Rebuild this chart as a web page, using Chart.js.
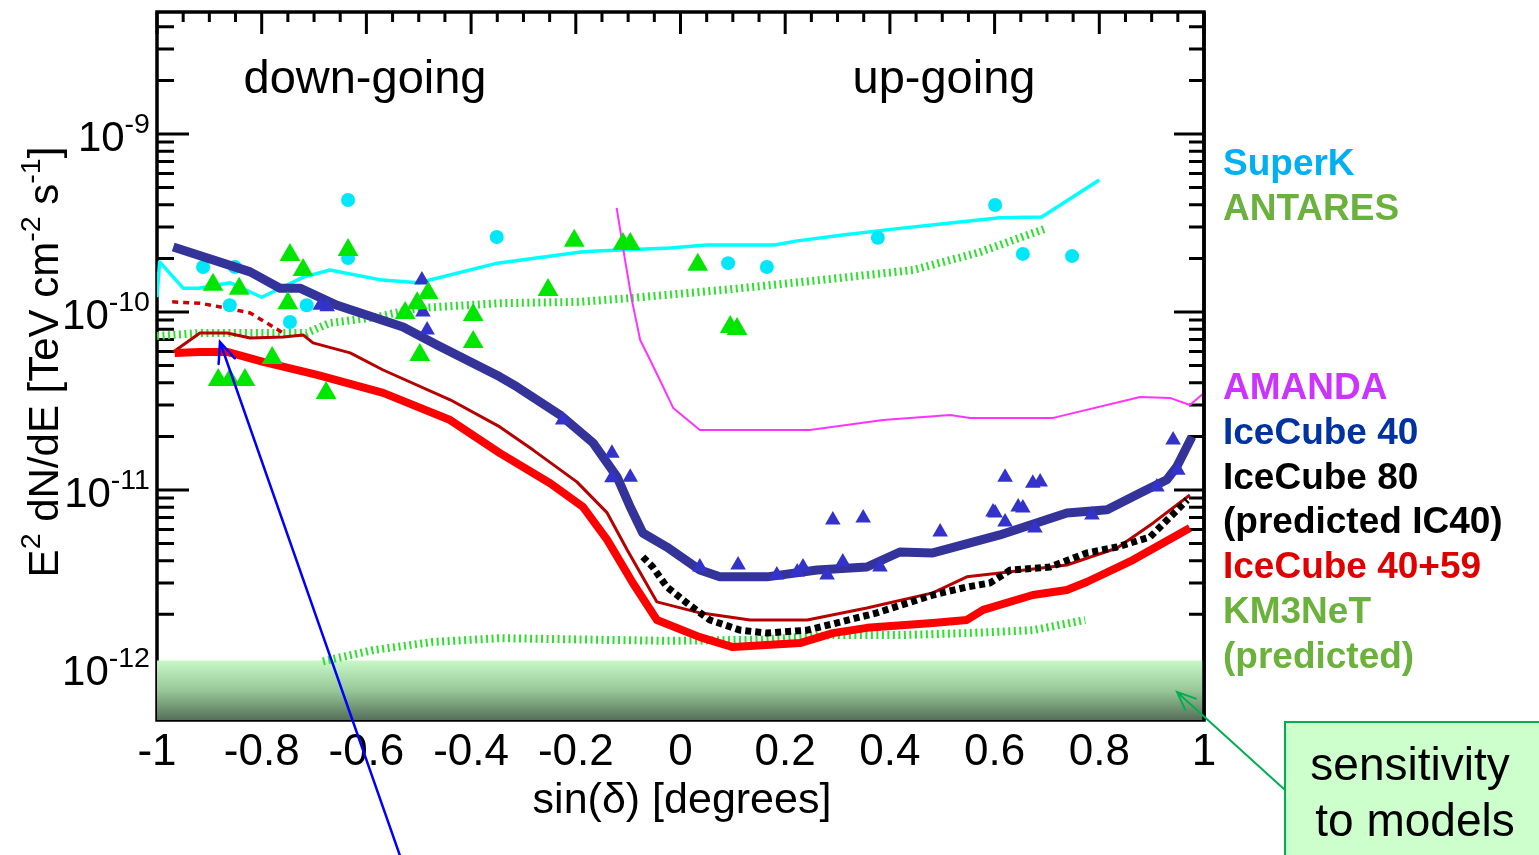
<!DOCTYPE html>
<html>
<head>
<meta charset="utf-8">
<script src="https://cdn.jsdelivr.net/npm/chart.js@4.4.1/dist/chart.umd.min.js"></script>
<style>
  html, body { margin: 0; padding: 0; background: #fff; }
  #wrap { width: 1539px; height: 855px; position: relative; }
</style>
</head>
<body>
<div id="wrap"><canvas id="chart"></canvas></div>
<script>
// ---- data: x = sin(dec), y = E^2 dN/dE [TeV cm^-2 s^-1] ----
const superkLineX = [-1.0, -0.995, -0.95, -0.92, -0.86, -0.80, -0.72, -0.67, -0.57, -0.50, -0.35, -0.19, -0.16, -0.02, 0.05, 0.18, 0.22, 0.31, 0.41, 0.48, 0.61, 0.69, 0.80];
const superkLineY = [1.21e-10, 1.91e-10, 1.36e-10, 1.36e-10, 1.46e-10, 1.21e-10, 1.57e-10, 1.72e-10, 1.51e-10, 1.46e-10, 1.88e-10, 2.17e-10, 2.20e-10, 2.29e-10, 2.38e-10, 2.38e-10, 2.50e-10, 2.71e-10, 2.93e-10, 3.08e-10, 3.38e-10, 3.42e-10, 5.52e-10];

const superkPtsX = [-0.912, -0.851, -0.861, -0.746, -0.714, -0.635, -0.635, -0.351, 0.091, 0.165, 0.377, 0.601, 0.654, 0.748];
const superkPtsY = [1.79e-10, 1.79e-10, 1.09e-10, 8.79e-11, 1.09e-10, 4.26e-10, 2.01e-10, 2.64e-10, 1.88e-10, 1.79e-10, 2.61e-10, 3.99e-10, 2.12e-10, 2.06e-10];

const antaresPtsX = [-0.893, -0.843, -0.883, -0.861, -0.832, -0.780, -0.746, -0.721, -0.750, -0.677, -0.635, -0.526, -0.503, -0.482, -0.498, -0.396, -0.396, -0.253, -0.203, -0.110, -0.096, 0.033, 0.095, 0.108];
const antaresPtsY = [1.42e-10, 1.35e-10, 4.15e-11, 4.15e-11, 4.15e-11, 5.52e-11, 2.09e-10, 1.72e-10, 1.12e-10, 3.51e-11, 2.23e-10, 9.87e-11, 1.12e-10, 1.28e-10, 5.74e-11, 9.62e-11, 6.78e-11, 1.33e-10, 2.51e-10, 2.41e-10, 2.41e-10, 1.84e-10, 8.24e-11, 8.02e-11];

const antaresLineX = [-1.0, -0.918, -0.759, -0.714, -0.670, -0.580, -0.504, -0.345, -0.192, -0.091, 0.081, 0.266, 0.444, 0.572, 0.700];
const antaresLineY = [7.33e-11, 7.62e-11, 7.62e-11, 7.62e-11, 8.67e-11, 9.37e-11, 1.05e-10, 1.12e-10, 1.14e-10, 1.20e-10, 1.33e-10, 1.51e-10, 1.72e-10, 2.17e-10, 2.96e-10];

const km3netX = [-0.683, -0.587, -0.473, -0.345, -0.154, -0.026, 0.152, 0.291, 0.419, 0.547, 0.673, 0.773];
const km3netY = [1.09e-12, 1.26e-12, 1.40e-12, 1.47e-12, 1.44e-12, 1.42e-12, 1.44e-12, 1.53e-12, 1.53e-12, 1.57e-12, 1.63e-12, 1.86e-12];

const amandaX = [-0.122, -0.106, -0.093, -0.077, -0.058, -0.033, -0.014, 0.037, 0.247, 0.387, 0.515, 0.553, 0.712, 0.878, 0.935, 0.973, 1.0];
const amandaY = [3.84e-10, 1.96e-10, 1.17e-10, 6.96e-11, 5.37e-11, 3.79e-11, 2.89e-11, 2.17e-11, 2.17e-11, 2.47e-11, 2.64e-11, 2.54e-11, 2.54e-11, 3.33e-11, 3.29e-11, 3.00e-11, 3.51e-11];

const ic40LineX = [-0.969, -0.822, -0.765, -0.727, -0.656, -0.530, -0.465, -0.345, -0.312, -0.230, -0.167, -0.121, -0.096, -0.072, -0.026, 0.037, 0.075, 0.165, 0.261, 0.356, 0.419, 0.482, 0.610, 0.738, 0.815, 0.878, 0.929, 0.948, 0.977];
const ic40LineY = [2.32e-10, 1.68e-10, 1.36e-10, 1.36e-10, 1.09e-10, 8.24e-11, 6.53e-11, 4.32e-11, 3.79e-11, 2.64e-11, 1.84e-11, 1.18e-11, 8.02e-12, 5.73e-12, 4.78e-12, 3.55e-12, 3.25e-12, 3.25e-12, 3.55e-12, 3.69e-12, 4.48e-12, 4.43e-12, 5.59e-12, 7.43e-12, 7.73e-12, 9.62e-12, 1.14e-11, 1.35e-11, 1.99e-11];

const ic40PtsX = [-0.688, -0.675, -0.494, -0.492, -0.484, -0.225, -0.131, -0.131, -0.096, 0.037, 0.110, 0.184, 0.223, 0.234, 0.280, 0.310, 0.291, 0.349, 0.381, 0.496, 0.597, 0.620, 0.601, 0.620, 0.645, 0.654, 0.673, 0.687, 0.677, 0.786, 0.910, 0.941, 0.950];
const ic40PtsY = [1.09e-10, 1.07e-10, 1.51e-10, 1.00e-10, 7.93e-11, 2.47e-11, 1.61e-11, 1.17e-11, 1.18e-11, 3.69e-12, 3.79e-12, 3.33e-12, 3.46e-12, 3.69e-12, 3.33e-12, 3.94e-12, 6.78e-12, 6.96e-12, 3.69e-12, 5.81e-12, 7.52e-12, 1.18e-11, 7.43e-12, 6.61e-12, 8.02e-12, 7.93e-12, 1.09e-11, 1.11e-11, 6.12e-12, 7.24e-12, 1.04e-11, 1.91e-11, 1.29e-11];

const ic4059X = [-0.966, -0.918, -0.866, -0.797, -0.694, -0.568, -0.440, -0.345, -0.249, -0.186, -0.140, -0.091, -0.045, 0.037, 0.100, 0.228, 0.291, 0.356, 0.482, 0.547, 0.578, 0.673, 0.738, 0.776, 0.864, 0.973];
const ic4059Y = [5.89e-11, 5.96e-11, 5.96e-11, 5.24e-11, 4.43e-11, 3.51e-11, 2.47e-11, 1.61e-11, 1.09e-11, 8.02e-12, 5.24e-12, 3.00e-12, 1.86e-12, 1.49e-12, 1.31e-12, 1.38e-12, 1.57e-12, 1.68e-12, 1.79e-12, 1.86e-12, 2.12e-12, 2.57e-12, 2.74e-12, 3.04e-12, 4.04e-12, 6.12e-12];

const thinRedX = [-0.969, -0.918, -0.866, -0.822, -0.759, -0.721, -0.702, -0.631, -0.568, -0.440, -0.345, -0.282, -0.198, -0.140, -0.102, -0.045, 0.037, 0.133, 0.242, 0.356, 0.482, 0.547, 0.610, 0.738, 0.834, 0.903, 0.973];
const thinRedY = [5.96e-11, 7.62e-11, 7.62e-11, 7.14e-11, 7.24e-11, 7.43e-11, 6.70e-11, 5.89e-11, 4.72e-11, 3.21e-11, 2.26e-11, 1.68e-11, 1.11e-11, 7.43e-12, 4.61e-12, 2.35e-12, 2.04e-12, 1.86e-12, 1.86e-12, 2.17e-12, 2.64e-12, 3.25e-12, 3.42e-12, 3.79e-12, 4.72e-12, 6.53e-12, 9.37e-12];

const dashRedX = [-0.971, -0.918, -0.866, -0.822, -0.759];
const dashRedY = [1.14e-10, 1.12e-10, 1.05e-10, 9.87e-11, 7.62e-11];

const ic80X = [-0.072, -0.053, -0.026, 0.012, 0.056, 0.114, 0.165, 0.242, 0.305, 0.375, 0.482, 0.547, 0.591, 0.630, 0.706, 0.776, 0.834, 0.897, 0.968];
const ic80Y = [4.21e-12, 3.69e-12, 2.85e-12, 2.32e-12, 1.86e-12, 1.63e-12, 1.57e-12, 1.63e-12, 1.81e-12, 2.04e-12, 2.57e-12, 2.85e-12, 3.00e-12, 3.55e-12, 3.69e-12, 4.43e-12, 4.78e-12, 5.44e-12, 8.79e-12];

const bandX = [-1, 1];
const bandY = [1.1e-12, 1.1e-12];

const xTicks = [-1, -0.8, -0.6, -0.4, -0.2, 0, 0.2, 0.4, 0.6, 0.8, 1];
const yDecades = [-9, -10, -11, -12];

const legendLines = [
  ['SuperK', '#00b0f0'], ['ANTARES', '#6ab23b'], null, null, null,
  ['AMANDA', '#cc33ff'], ['IceCube 40', '#0033a0'], ['IceCube 80', '#000000'],
  ['(predicted IC40)', '#000000'], ['IceCube 40+59', '#e00000'],
  ['KM3NeT', '#6ab23b'], ['(predicted)', '#6ab23b']
];

const FONT = '"Liberation Sans", Arial, Helvetica, sans-serif';

function pts(xs, ys) {
  return xs.map((x, i) => ({ x: x, y: ys[i] }));
}

function lineSet(label, xs, ys, color, width, dash, order) {
  return {
    label: label, data: pts(xs, ys), showLine: true,
    borderColor: color, borderWidth: width, borderDash: dash || [],
    borderJoinStyle: 'round', pointRadius: 0, pointHoverRadius: 0,
    fill: false, tension: 0, order: order
  };
}

function markSet(label, xs, ys, color, style, radius, order) {
  return {
    label: label, data: pts(xs, ys), showLine: false,
    pointStyle: style, pointRadius: radius, pointHoverRadius: radius,
    pointBackgroundColor: color, pointBorderColor: color, pointBorderWidth: 0,
    order: order
  };
}

// superscript-capable text
function richText(ctx, parts, x, y, size, align, color) {
  ctx.fillStyle = color || '#000';
  ctx.textAlign = 'left';
  ctx.textBaseline = 'alphabetic';
  let w = 0;
  parts.forEach(p => {
    ctx.font = (p[1] ? size * 0.68 : size) + 'px ' + FONT;
    w += ctx.measureText(p[0]).width;
  });
  let cx = align === 'right' ? x - w : align === 'center' ? x - w / 2 : x;
  parts.forEach(p => {
    ctx.font = (p[1] ? size * 0.68 : size) + 'px ' + FONT;
    ctx.fillText(p[0], cx, p[1] ? y - size * 0.42 : y);
    cx += ctx.measureText(p[0]).width;
  });
}

function arrow(ctx, x0, y0, x1, y1, color, width, head) {
  const ang = Math.atan2(y0 - y1, x0 - x1);
  ctx.save();
  ctx.strokeStyle = color;
  ctx.lineWidth = width;
  ctx.lineCap = 'round';
  ctx.beginPath();
  ctx.moveTo(x0, y0); ctx.lineTo(x1, y1);
  ctx.moveTo(x1 + head * Math.cos(ang + 0.4), y1 + head * Math.sin(ang + 0.4));
  ctx.lineTo(x1, y1);
  ctx.lineTo(x1 + head * Math.cos(ang - 0.4), y1 + head * Math.sin(ang - 0.4));
  ctx.stroke();
  ctx.restore();
}

const decor = {
  id: 'decor',
  beforeDatasetsDraw(chart) {
    const { ctx, chartArea: a, scales: { x, y } } = chart;
    ctx.save();
    ctx.strokeStyle = '#000';
    ctx.lineWidth = 3.5;
    ctx.strokeRect(a.left, a.top, a.right - a.left, a.bottom - a.top);
    ctx.lineWidth = 3;
    ctx.beginPath();
    for (let k = 0; k <= 40; k++) {
      const px = x.getPixelForValue(-1 + k * 0.05);
      ctx.moveTo(px, a.top);
      ctx.lineTo(px, a.top + (k % 4 === 0 ? 22 : 10));
    }
    for (let e = -13; e <= -9; e++) {
      for (let m = 1; m <= 9; m++) {
        const v = m * Math.pow(10, e);
        if (v < y.min || v > y.max) continue;
        const py = y.getPixelForValue(v);
        ctx.moveTo(a.left, py); ctx.lineTo(a.left + (m === 1 ? 32 : 17), py);
        ctx.moveTo(a.right, py); ctx.lineTo(a.right - (m === 1 ? 30 : 15), py);
      }
    }
    ctx.stroke();
    ctx.restore();
  },
  afterDatasetsDraw(chart) {
    const { ctx, chartArea: a } = chart;
    ctx.save();
    ctx.strokeStyle = '#000';
    ctx.lineWidth = 3.5;
    ctx.beginPath();
    ctx.moveTo(a.right, a.top); ctx.lineTo(a.right, a.bottom);
    ctx.stroke();
    ctx.restore();
  },
  afterDraw(chart) {
    const { ctx, scales: { x, y } } = chart;
    ctx.save();
    // x tick labels
    ctx.fillStyle = '#000';
    ctx.font = '44px ' + FONT;
    ctx.textAlign = 'center';
    ctx.textBaseline = 'alphabetic';
    xTicks.forEach(v => ctx.fillText(String(v), x.getPixelForValue(v), 765));
    // y tick labels
    yDecades.forEach(e => {
      const py = y.getPixelForValue(Math.pow(10, e));
      richText(ctx, [['10', 0], [String(e), 1]], 150, py + 17, 42, 'right');
    });
    // axis titles
    richText(ctx, [['sin(\u03b4) [degrees]', 0]], 682, 813, 43, 'center');
    ctx.save();
    ctx.translate(58, 362);
    ctx.rotate(-Math.PI / 2);
    richText(ctx, [['E', 0], ['2', 1], [' dN/dE [TeV cm', 0], ['-2', 1], [' s', 0], ['-1', 1], [']', 0]], 0, 0, 42, 'center');
    ctx.restore();
    // region labels
    richText(ctx, [['down-going', 0]], 365, 93, 47, 'center');
    richText(ctx, [['up-going', 0]], 944, 93, 47, 'center');
    // legend text
    ctx.font = 'bold 37px ' + FONT;
    ctx.textAlign = 'left';
    legendLines.forEach((l, i) => {
      if (!l) return;
      ctx.fillStyle = l[1];
      ctx.fillText(l[0], 1223, 175 + i * 44.8);
    });
    // sensitivity box
    ctx.fillStyle = '#ccffcc';
    ctx.strokeStyle = '#00b050';
    ctx.lineWidth = 2;
    ctx.fillRect(1285, 722, 270, 140);
    ctx.strokeRect(1285, 722, 270, 140);
    richText(ctx, [['sensitivity', 0]], 1410, 780, 46, 'center');
    richText(ctx, [['to models', 0]], 1415, 836, 46, 'center');
    arrow(ctx, 1285, 790, 1177, 692, '#00b050', 2, 20);
    arrow(ctx, 405, 870, 220, 342, '#0000ff', 2.5, 22);
    ctx.restore();
  }
};

new Chart(document.getElementById('chart'), {
  type: 'scatter',
  data: {
    datasets: [
      markSet('ANTARES', antaresPtsX, antaresPtsY, '#00e600', 'triangle', 12, 1),
      markSet('IceCube 40 sources', ic40PtsX, ic40PtsY, '#3333cc', 'triangle', 9, 2),
      lineSet('IceCube 40', ic40LineX, ic40LineY, '#333399', 9, null, 3),
      markSet('SuperK', superkPtsX, superkPtsY, '#00e8f8', 'circle', 7, 4),
      lineSet('IceCube 80 (predicted IC40)', ic80X, ic80Y, '#000000', 7, [6, 4], 5),
      lineSet('IceCube 40+59', ic4059X, ic4059Y, '#ff0000', 8, null, 6),
      lineSet('IceCube 40+59 (thin)', thinRedX, thinRedY, '#b80000', 3, null, 7),
      lineSet('IceCube 40+59 (dashed)', dashRedX, dashRedY, '#cc0000', 3.5, [6, 5], 8),
      lineSet('AMANDA', amandaX, amandaY, '#ff33ff', 2, null, 9),
      lineSet('SuperK sensitivity', superkLineX, superkLineY, '#00ffff', 3.5, null, 10),
      lineSet('ANTARES sensitivity', antaresLineX, antaresLineY, '#2ee02e', 8, [2, 3.5], 11),
      lineSet('KM3NeT (predicted)', km3netX, km3netY, '#2ee02e', 8, [2, 3.5], 12),
      {
        type: 'line', label: 'sensitivity to models', data: pts(bandX, bandY),
        borderWidth: 0, pointRadius: 0, fill: 'start', order: 13,
        backgroundColor: (c) => {
          const ch = c.chart;
          if (!ch.chartArea) return '#a0d0a0';
          const top = ch.scales.y.getPixelForValue(bandY[0]);
          const g = ch.ctx.createLinearGradient(0, top, 0, ch.chartArea.bottom);
          g.addColorStop(0, '#c8f8c8');
          g.addColorStop(0.5, '#98c898');
          g.addColorStop(1, '#56705a');
          return g;
        }
      }
    ]
  },
  options: {
    responsive: true,
    maintainAspectRatio: false,
    animation: false,
    events: [],
    layout: { padding: { left: 0, right: 335, top: 12, bottom: 0 } },
    plugins: { legend: { display: false }, tooltip: { enabled: false } },
    scales: {
      x: {
        type: 'linear', min: -1, max: 1,
        ticks: { display: false, stepSize: 0.2 },
        grid: { display: false, drawTicks: false },
        border: { display: false },
        afterFit: (s) => { s.height = 135; }
      },
      y: {
        type: 'logarithmic', min: 5.1e-13, max: 4.845e-9,
        ticks: { display: false },
        grid: { display: false, drawTicks: false },
        border: { display: false },
        afterFit: (s) => { s.width = 157; }
      }
    }
  },
  plugins: [decor]
});
</script>
</body>
</html>
